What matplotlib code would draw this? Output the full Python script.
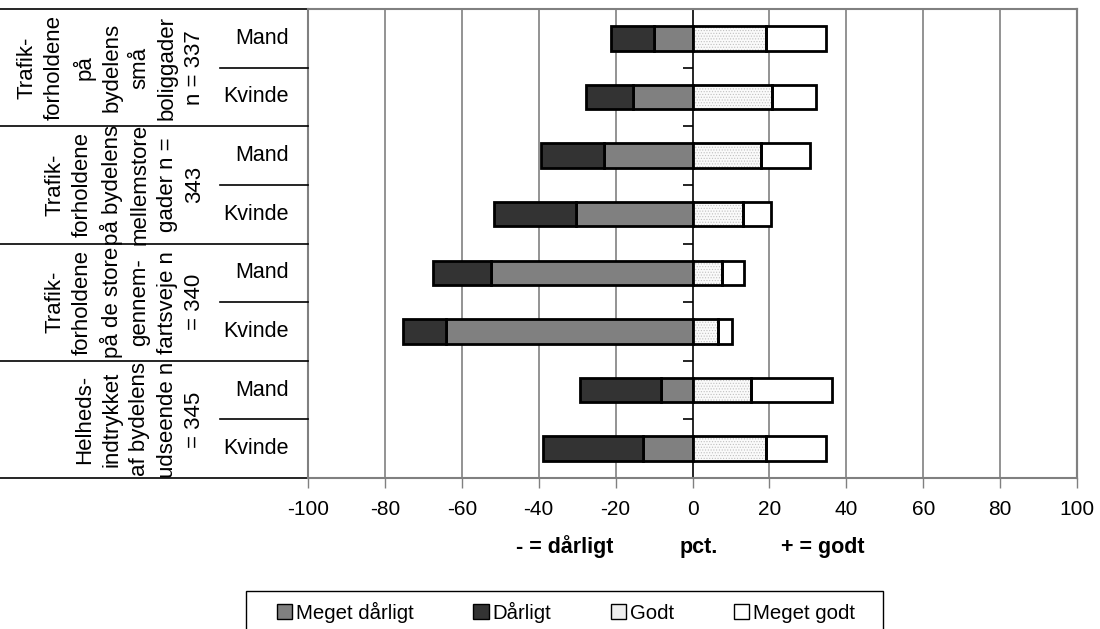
# coding: utf-8

import matplotlib.pyplot as plt
import matplotlib.patches as mpatches
import matplotlib.transforms as mtransforms
import numpy as np

plt.rcParams['font.family'] = ['Liberation Sans', 'DejaVu Sans']
plt.rcParams['hatch.linewidth'] = 0.5

## data (pct.), top row first
groups = ["Trafik-\nforholdene\npå\nbydelens\nsmå\nboliggader\nn = 337",
          "Trafik-\nforholdene\npå bydelens\nmellemstore\ngader n =\n343",
          "Trafik-\nforholdene\npå de store\ngennem-\nfartsveje n\n= 340",
          "Helheds-\nindtrykket\naf bydelens\nudseende n\n= 345"]
sexes = ["Mand", "Kvinde"]

meget_daarligt = [9.9, 15.4, 23.0, 30.4, 52.5, 64.2, 8.2, 12.8]
daarligt = [11.2, 12.4, 16.4, 21.3, 14.9, 11.2, 21.0, 26.1]
godt = [19.2, 20.7, 17.7, 13.2, 7.6, 6.6, 15.3, 19.0]
meget_godt = [15.6, 11.4, 12.8, 7.1, 5.8, 3.8, 21.1, 15.6]

xticks = [-100, -80, -60, -40, -20, 0, 20, 40, 60, 80, 100]

fig = plt.figure(figsize=(11, 6.29), dpi=100)
ax = fig.add_axes([308 / 1100, 1 - 478 / 629, (1077 - 308) / 1100, (478 - 9) / 629])

y = np.arange(len(meget_daarligt))
h = 0.42
md = np.array(meget_daarligt)
d = np.array(daarligt)
g = np.array(godt)
mg = np.array(meget_godt)

ax.barh(y, -md, height=h, color='#808080', edgecolor='black', linewidth=2, zorder=3)
ax.barh(y, -d, left=-md, height=h, color='#333333', edgecolor='black', linewidth=2, zorder=3)
# dotted fill for "Godt", outline drawn on top
ax.barh(y, g, height=h, color='#fafafa', edgecolor='#c0c0c0', hatch='......', linewidth=0, zorder=3)
ax.barh(y, g, height=h, fill=False, edgecolor='black', linewidth=2, zorder=4)
ax.barh(y, mg, left=g, height=h, color='white', edgecolor='black', linewidth=2, zorder=3)

ax.set_xlim(-100, 100)
ax.set_ylim(len(y) - 0.5, -0.5)
ax.set_xticks(xticks)
ax.set_xticklabels([str(t) for t in xticks], fontsize=15)
ax.tick_params(axis='x', direction='out', length=7, width=1, color='#808080', pad=9)

# category axis crosses at 0
ax.spines['left'].set_position(('data', 0))
ax.spines['left'].set_color('black')
ax.spines['left'].set_linewidth(1.2)
ax.set_yticks(np.arange(len(y) + 1) - 0.5)
ax.set_yticklabels([])
ax.tick_params(axis='y', direction='out', length=7, width=1.2, color='black')
for s in ['top', 'right', 'bottom']:
    ax.spines[s].set_color('#808080')
    ax.spines[s].set_linewidth(1.5)

for t in xticks:
    if t != 0:
        ax.axvline(t, color='#808080', linewidth=1.2 if abs(t) < 100 else 1.5, zorder=1, clip_on=False)

## category table on the left
trans = mtransforms.blended_transform_factory(fig.transFigure, ax.transData)
x_ax = 308 / 1100
for i, name in enumerate(groups):
    top = 2 * i - 0.5
    ax.plot([0, x_ax], [top, top], color='black', linewidth=1.2, transform=trans, clip_on=False)
    ax.plot([220 / 1100, x_ax], [top + 1, top + 1], color='black', linewidth=1.2, transform=trans, clip_on=False)
    ax.text(205 / 1100, top + 1, name, rotation=90, ha='right', va='center',
            multialignment='center', fontsize=16, transform=trans, linespacing=1.4)
    for j, s in enumerate(sexes):
        ax.text(289 / 1100, 2 * i + j, s, ha='right', va='center', fontsize=15.5, transform=trans)
ax.plot([0, x_ax], [len(y) - 0.5, len(y) - 0.5], color='black', linewidth=1.2, transform=trans, clip_on=False)

## axis title in three parts
trans2 = mtransforms.blended_transform_factory(ax.transData, fig.transFigure)
yl = 1 - 547 / 629
ax.text(-33.3, yl, '- = dårligt', ha='center', va='center', fontsize=15.5, fontweight='bold', transform=trans2)
ax.text(1.5, yl, 'pct.', ha='center', va='center', fontsize=15.5, fontweight='bold', transform=trans2)
ax.text(33.8, yl, '+ = godt', ha='center', va='center', fontsize=15.5, fontweight='bold', transform=trans2)

## legend
handles = [mpatches.Patch(facecolor='#808080', edgecolor='black', linewidth=1),
           mpatches.Patch(facecolor='#333333', edgecolor='black', linewidth=1),
           mpatches.Patch(facecolor='#eeeeee', edgecolor='black', linewidth=1),
           mpatches.Patch(facecolor='white', edgecolor='black', linewidth=1)]
labels = ['Meget dårligt', 'Dårligt', 'Godt', 'Meget godt']
fig.legend(handles, labels, loc='center', bbox_to_anchor=(566 / 1100, 1 - 612 / 629), ncol=4,
           frameon=False, handlelength=0.75, handleheight=0.75, handletextpad=0.2,
           columnspacing=2.9, fontsize=14.7)
fig.add_artist(mpatches.Rectangle((246 / 1100, 1 - 660 / 629), (883 - 246) / 1100, (660 - 591) / 629,
                                  fill=False, edgecolor='black', linewidth=1, transform=fig.transFigure))

plt.savefig('out.png', dpi=100)
